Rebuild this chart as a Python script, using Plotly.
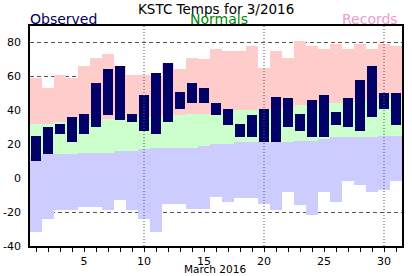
import plotly.graph_objects as go

days = list(range(1, 32))
rec_high = [59, 53, 61, 59, 66, 71, 73, 66, 61, 61, 60, 68, 64, 71, 70, 76, 75, 75, 78, 65,
            75, 71, 81, 78, 76, 79, 76, 79, 76, 79, 78]
rec_low = [-32, -24, -19, -19, -17, -17, -19, -13, -19, -24, -32, -15, -15, -18, -18, -11,
           -14, -12, -12, -15, -19, -8, -16, -22, -8, -14, -2, -4, -8, -7, -2]
norm_high = [32, 32, 33, 34, 34, 34, 35, 35, 36, 36, 36, 37, 37, 38, 38, 38, 39, 40, 40, 41,
             41, 42, 43, 43, 44, 44, 45, 45, 46, 47, 47]
norm_low = [13, 14, 14, 14, 15, 15, 15, 16, 16, 17, 18, 18, 18, 18, 19, 20, 20, 21, 21, 21,
            21, 21, 22, 22, 23, 24, 24, 24, 24, 25, 25]
obs_high = [25, 30, 32, 36, 38, 56, 64, 66, 38, 49, 62, 68, 51, 56, 53, 44, 41, 32, 37, 41,
            48, 47, 38, 46, 49, 39, 47, 58, 66, 50, 50]
obs_low = [10, 14, 26, 21, 26, 30, 37, 34, 33, 28, 26, 33, 41, 44, 44, 37, 31, 24, 24, 21,
           21, 30, 28, 24, 24, 31, 30, 28, 36, 41, 31]

y_ticks = [-40, -20, 0, 20, 40, 60, 80]
y_ticktext = ["-40", "-20", "0", "20", "40", "60", "80"]
x_ticks = [5, 10, 15, 20, 25, 30]
grid_days = [10, 20, 30]

title = "KSTC Temps for 3/2016"
x_title = "March 2016"
FONT = "DejaVu Sans"

fig = go.Figure()
fig.add_trace(go.Bar(x=days, y=[h - n for h, n in zip(rec_high, norm_high)], base=norm_high,
                     width=1, marker=dict(color="#FFCCCC", line=dict(width=0))))
fig.add_trace(go.Bar(x=days, y=[h - l for h, l in zip(norm_high, norm_low)], base=norm_low,
                     width=1, marker=dict(color="#CCFFCC", line=dict(width=0))))
fig.add_trace(go.Bar(x=days, y=[n - r for n, r in zip(norm_low, rec_low)], base=rec_low,
                     width=1, marker=dict(color="#CCCCFF", line=dict(width=0))))
fig.add_trace(go.Bar(x=days, y=[h - l for h, l in zip(obs_high, obs_low)], base=obs_low,
                     width=0.8, marker=dict(color="#000066", line=dict(width=0))))

for d in grid_days:
    fig.add_shape(type="line", x0=d, x1=d, y0=0, y1=1, xref="x", yref="paper",
                  line=dict(color="#555555", width=1, dash="1px,2px"), layer="above")

fig.update_layout(
    width=412, height=276,
    margin=dict(l=30, r=10, t=26, b=30, autoexpand=False),
    barmode="overlay", bargap=0,
    showlegend=False,
    plot_bgcolor="white", paper_bgcolor="white",
    font=dict(family=FONT, color="black", size=11),
    hovermode=False,
    xaxis=dict(range=[0.5, 31.5], tickmode="array", tickvals=x_ticks,
               ticks="outside", ticklen=4, tickcolor="black",
               minor=dict(tickmode="array", tickvals=days, ticks="outside", ticklen=4,
                          tickcolor="black", showgrid=False),
               showgrid=False, zeroline=False, automargin=False,
               showline=True, linecolor="black", linewidth=1.5, mirror=True,
               tickfont=dict(size=11)),
    yaxis=dict(range=[-40, 89.6], tickmode="array", tickvals=y_ticks, ticktext=y_ticktext,
               ticks="outside", ticklen=5, tickcolor="rgba(0,0,0,0)",
               showgrid=True, gridcolor="#555555", gridwidth=1, griddash="4px,3px",
               zeroline=False, layer="above traces", automargin=False,
               showline=True, linecolor="black", linewidth=1.5, mirror=True,
               tickfont=dict(size=11)),
    annotations=[
        dict(text=title, x=0.5, y=1.118, xref="paper", yref="paper", xanchor="center",
             yanchor="top", showarrow=False, borderpad=0, font=dict(size=13.5, color="black")),
        dict(text="Observed", x=0, y=1.0, xref="paper", yref="paper", xanchor="left",
             yanchor="bottom", showarrow=False, borderpad=0, xshift=-1, yshift=-2,
             font=dict(size=14, color="#000066")),
        dict(text="Normals", x=0.508, y=1.0, xref="paper", yref="paper", xanchor="center",
             yanchor="bottom", showarrow=False, borderpad=0, yshift=-2,
             font=dict(size=14, color="#008800")),
        dict(text="Records", x=0.992, y=1.0, xref="paper", yref="paper", xanchor="right",
             yanchor="bottom", showarrow=False, borderpad=0, yshift=-2,
             font=dict(size=14, color="#F49AD0")),
        dict(text=x_title, x=0.497, y=-0.068, xref="paper", yref="paper", xanchor="center",
             yanchor="top", showarrow=False, borderpad=0, yshift=-1,
             font=dict(size=10.5, color="black")),
    ],
)

fig.write_html("out.html", config=dict(displayModeBar=False))
